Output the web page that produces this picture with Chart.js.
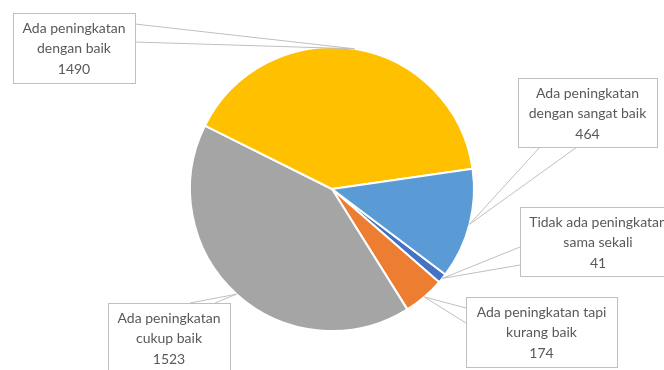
<!DOCTYPE html>
<html>
<head>
<meta charset="utf-8">
<script src="https://cdn.jsdelivr.net/npm/chart.js@4"></script>
<style>
  html, body { margin: 0; padding: 0; background: #fff; }
  #wrap { width: 664px; height: 370px; }
</style>
</head>
<body>
<div id="wrap"><canvas id="grafik" width="664" height="370"></canvas></div>
<script>
// Data (urutan seperti di Excel, searah jarum jam)
const kategori = [
  "Tidak ada peningkatan sama sekali",
  "Ada peningkatan tapi kurang baik",
  "Ada peningkatan cukup baik",
  "Ada peningkatan dengan baik",
  "Ada peningkatan dengan sangat baik"
];
const nilai = [41, 174, 1523, 1490, 464];
const barisLabel = [
  ["Tidak ada peningkatan", "sama sekali"],
  ["Ada peningkatan tapi", "kurang baik"],
  ["Ada peningkatan", "cukup baik"],
  ["Ada peningkatan", "dengan baik"],
  ["Ada peningkatan", "dengan sangat baik"]
];
const warna = ["#4472C4", "#ED7D31", "#A5A5A5", "#FFC000", "#5B9BD5"];

// Posisi kotak callout: [x1, y1, x2, y2], dasar wedge: [ax, ay, bx, by]
const kotak = [
  [520, 207, 676, 276],
  [466, 297, 617, 367],
  [108, 303, 230, 382],
  [13, 13, 135, 83],
  [518, 78, 657, 147]
];
const dasarWedge = [
  [520, 247, 520, 265],
  [466, 308, 466, 323],
  [190, 303, 215, 303],
  [135, 24, 135, 42],
  [540, 147, 577, 147]
];

const pluginCallout = {
  id: "callout",
  afterDraw(chart) {
    const ctx = chart.ctx;
    const meta = chart.getDatasetMeta(0);
    ctx.save();
    meta.data.forEach((arc, i) => {
      const p = arc.getProps(["x", "y", "startAngle", "endAngle", "outerRadius"], true);
      const mid = (p.startAngle + p.endAngle) / 2;
      const r = p.outerRadius;
      const tx = p.x + Math.cos(mid) * r;
      const ty = p.y + Math.sin(mid) * r;
      const [x1, y1, x2, y2] = kotak[i];
      const [ax, ay, bx, by] = dasarWedge[i];

      // wedge
      ctx.strokeStyle = "#BFBFBF";
      ctx.lineWidth = 1;
      ctx.fillStyle = "#fff";
      ctx.beginPath();
      ctx.moveTo(ax, ay);
      ctx.lineTo(tx, ty);
      ctx.lineTo(bx, by);
      ctx.stroke();

      // kotak
      ctx.fillRect(x1, y1, x2 - x1, y2 - y1);
      ctx.strokeRect(x1 + 0.5, y1 + 0.5, x2 - x1, y2 - y1);

      // teks
      const baris = barisLabel[i].concat([String(nilai[i])]);
      ctx.fillStyle = "#595959";
      ctx.font = "14px Lato";
      ctx.textAlign = "center";
      ctx.textBaseline = "middle";
      const cx = (x1 + x2) / 2;
      const cy = y1 + 15;
      baris.forEach((t, k) => ctx.fillText(t, cx, cy + k * 20.5));
    });
    ctx.restore();
  }
};

new Chart(document.getElementById("grafik"), {
  type: "pie",
  data: {
    labels: kategori,
    datasets: [{
      data: nilai,
      backgroundColor: warna,
      borderColor: "#ffffff",
      borderWidth: 2
    }]
  },
  options: {
    responsive: false,
    animation: false,
    rotation: 127,
    layout: { padding: { top: 46, bottom: 38, left: 0, right: 0 } },
    plugins: {
      legend: { display: false },
      tooltip: { enabled: false }
    }
  },
  plugins: [pluginCallout]
});
</script>
</body>
</html>
